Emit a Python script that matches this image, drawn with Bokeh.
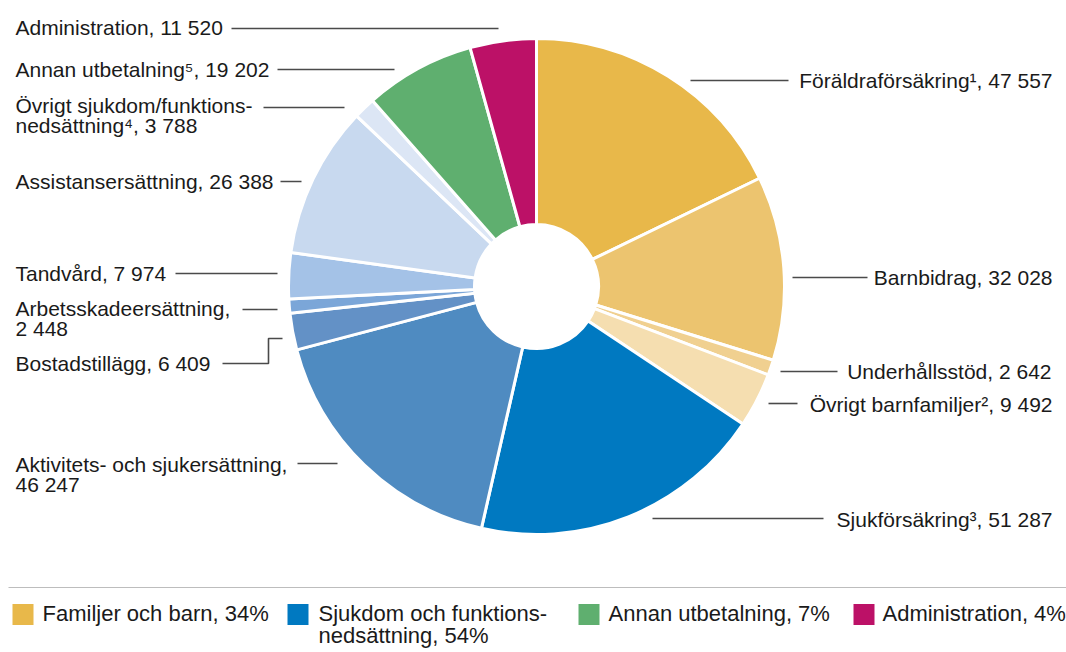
import math
from bokeh.plotting import figure
from bokeh.models import Range1d, ColumnDataSource
from bokeh.core.properties import value
from bokeh.embed import file_html
from bokeh.resources import INLINE

# ---------------- data ----------------
names = ["Föräldraförsäkring¹", "Barnbidrag", "Underhållsstöd", "Övrigt barnfamiljer²",
         "Sjukförsäkring³", "Aktivitets- och sjukersättning", "Bostadstillägg",
         "Arbetsskadeersättning", "Tandvård", "Assistansersättning",
         "Övrigt sjukdom/funktions-\nnedsättning⁴", "Annan utbetalning⁵", "Administration"]
amounts = [47557, 32028, 2642, 9492, 51287, 46247, 6409, 2448, 7974, 26388, 3788, 19202, 11520]
colors = ["#E8B84A", "#ECC46F", "#F0D090", "#F5DEB0", "#0079C1", "#4F8BC1", "#6391C6",
          "#7BA6D8", "#A4C2E7", "#C8D9EF", "#DCE6F5", "#5FAF6F", "#BC1167"]
value_on_new_line = [False, False, False, False, False, True, False, True, False, False, False, False, False]

legend_labels = ["Familjer och barn, 34%", "Sjukdom och funktions-\nnedsättning, 54%",
                 "Annan utbetalning, 7%", "Administration, 4%"]
legend_colors = ["#E8B84A", "#0079C1", "#5FAF6F", "#BC1167"]

# ---------------- layout (page pixel coordinates) ----------------
W, H = 1066, 650
def dx(X): return X
def dy(Y): return H - Y

CX, CY, R_OUT, R_IN = 536, 286, 248, 62
FONT = value("Liberation Sans")

label_pos = [  # (anchor X, first line Y, align)
    (1052, 80, "right"), (1052, 277, "right"), (1051, 371, "right"), (1052, 404, "right"),
    (1052, 519, "right"), (15, 464, "left"), (15, 363, "left"), (15, 308, "left"),
    (15, 273, "left"), (15, 181, "left"), (15, 105, "left"), (15, 69, "left"), (15, 27, "left"),
]
leaders = [
    [(690, 80), (788, 80)], [(792, 277), (867, 277)], [(780, 371), (837, 371)],
    [(768, 403), (797, 403)], [(652, 518), (823, 518)], [(297, 463), (337, 463)],
    [(222, 363), (268, 363), (268, 338), (282, 338)], [(242, 309), (277, 309)],
    [(175, 273), (277, 273)], [(280, 181), (301, 181)], [(263, 107), (344, 107)],
    [(277, 69), (394, 69)], [(231, 28), (498, 28)],
]
LINE_H = 20

p = figure(width=W, height=H, output_backend="svg", toolbar_location=None,
           x_range=Range1d(0, W), y_range=Range1d(0, H), min_border=0)
p.axis.visible = False
p.grid.visible = False
p.outline_line_color = None
p.background_fill_color = "white"

# wedges
total = sum(amounts)
starts, ends = [], []
cum = 0
for a in amounts:
    starts.append(math.pi / 2 - 2 * math.pi * cum / total)
    cum += a
    ends.append(math.pi / 2 - 2 * math.pi * cum / total)
src = ColumnDataSource(dict(x=[dx(CX)] * len(amounts), y=[dy(CY)] * len(amounts),
                            start=starts, end=ends, color=colors))
p.annular_wedge(x="x", y="y", inner_radius=R_IN, outer_radius=R_OUT,
                start_angle="start", end_angle="end", direction="clock",
                fill_color="color", line_color="white", line_width=3, source=src)

# leader lines
p.multi_line(xs=[[dx(X) for X, _ in l] for l in leaders],
             ys=[[dy(Y) for _, Y in l] for l in leaders],
             line_color="#4a4a4a", line_width=1.6)

# labels
def fmt(v):
    return f"{v:,}".replace(",", " ")

tx, ty, tt, ta = [], [], [], []
for i, n in enumerate(names):
    lab = n + (",\n" if value_on_new_line[i] else ", ") + fmt(amounts[i])
    X, Y, al = label_pos[i]
    for k, line in enumerate(lab.split("\n")):
        tx.append(dx(X)); ty.append(dy(Y + k * LINE_H)); tt.append(line); ta.append(al)
p.text(x=tx, y=ty, text=tt, text_align=ta, text_baseline="middle",
       text_font=FONT, text_font_size="21px", text_color="#1a1a1a")

# legend separator
p.line(x=[dx(8), dx(1066)], y=[dy(587), dy(587)], line_color="#BDBDBD", line_width=1.2)

# legend
leg_sq_x = [12, 287, 578, 853]
leg_txt_x = [42, 318, 608, 882]
p.rect(x=[dx(X + 10.5) for X in leg_sq_x], y=[dy(614)] * 4, width=21, height=21,
       fill_color=legend_colors, line_color=None)
lx, ly, lt = [], [], []
for i, lab in enumerate(legend_labels):
    for k, line in enumerate(lab.split("\n")):
        lx.append(dx(leg_txt_x[i])); ly.append(dy(613 + k * 22)); lt.append(line)
p.text(x=lx, y=ly, text=lt, text_align="left", text_baseline="middle",
       text_font=FONT, text_font_size="22px", text_color="#1a1a1a")

open("out.html", "w").write(file_html(p, INLINE))
